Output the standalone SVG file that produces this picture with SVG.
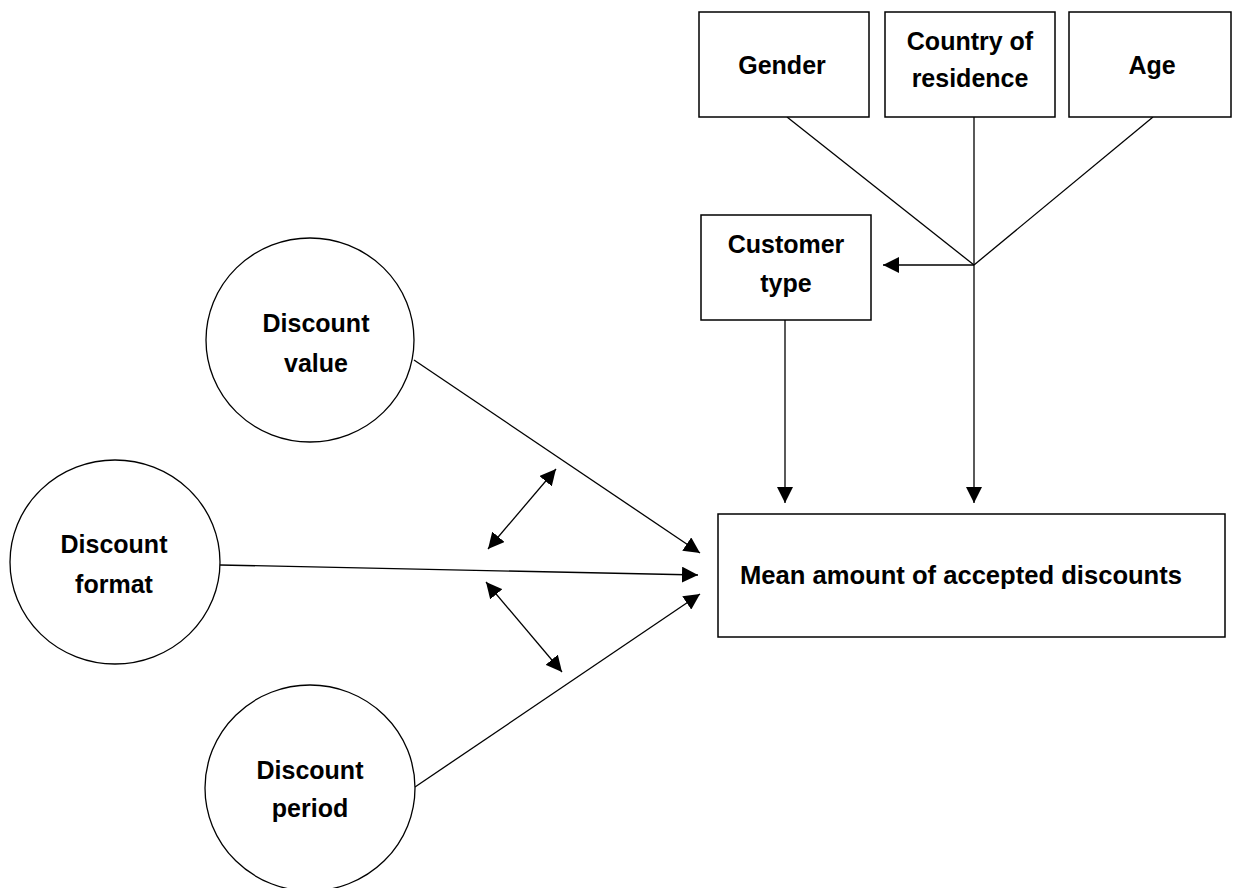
<svg xmlns="http://www.w3.org/2000/svg" width="1233" height="888" viewBox="0 0 1233 888">
<style>
  .box { fill: #fff; stroke: #000; stroke-width: 1.5; }
  .circ { fill: #fff; stroke: #000; stroke-width: 1.3; }
  .lbl { font-family: "Liberation Sans", Arial, sans-serif; font-weight: bold; font-size: 25px; fill: #000; text-anchor: middle; }
  .edge { fill: none; stroke: #000; stroke-width: 1.3; }
</style>
<defs>
  <marker id="ah" markerUnits="userSpaceOnUse" markerWidth="17" markerHeight="16" refX="16" refY="8" orient="auto-start-reverse" viewBox="0 0 17 16">
    <path d="M0,0 L16,8 L0,16 z" fill="#000"/>
  </marker>
</defs>
<rect width="1233" height="888" fill="#fff"/>

<g id="connectors">
  <line class="edge" x1="787" y1="117" x2="974" y2="265"/>
  <line class="edge" x1="1153" y1="117" x2="974" y2="265"/>
  <line class="edge" x1="974" y1="117" x2="974" y2="503" marker-end="url(#ah)"/>
  <line class="edge" x1="974" y1="265" x2="883" y2="265" marker-end="url(#ah)"/>
  <line class="edge" x1="785" y1="320" x2="785" y2="503" marker-end="url(#ah)"/>
  <line class="edge" x1="414" y1="360" x2="700" y2="553" marker-end="url(#ah)"/>
  <line class="edge" x1="220" y1="565" x2="698" y2="575" marker-end="url(#ah)"/>
  <line class="edge" x1="415" y1="787" x2="700" y2="594" marker-end="url(#ah)"/>
  <line class="edge" x1="488" y1="549" x2="556" y2="469" marker-start="url(#ah)" marker-end="url(#ah)"/>
  <line class="edge" x1="486" y1="582" x2="562" y2="672" marker-start="url(#ah)" marker-end="url(#ah)"/>
</g>

<g id="gender">
  <rect class="box" x="699" y="12" width="170" height="105"/>
  <text class="lbl" x="782" y="74">Gender</text>
</g>
<g id="country">
  <rect class="box" x="885" y="12" width="170" height="105"/>
  <text class="lbl" x="970" y="50">Country of</text>
  <text class="lbl" x="970" y="87">residence</text>
</g>
<g id="age">
  <rect class="box" x="1069" y="12" width="162" height="105"/>
  <text class="lbl" x="1152" y="74">Age</text>
</g>
<g id="customer-type">
  <rect class="box" x="701" y="215" width="170" height="105"/>
  <text class="lbl" x="786" y="253">Customer</text>
  <text class="lbl" x="786" y="292">type</text>
</g>
<g id="mean">
  <rect class="box" x="718" y="514" width="507" height="123"/>
  <text class="lbl" x="740" y="584" style="text-anchor:start" textLength="442" lengthAdjust="spacingAndGlyphs">Mean amount of accepted discounts</text>
</g>
<g id="discount-value">
  <ellipse class="circ" cx="310" cy="340" rx="104" ry="102"/>
  <text class="lbl" x="316" y="332">Discount</text>
  <text class="lbl" x="316" y="372">value</text>
</g>
<g id="discount-format">
  <ellipse class="circ" cx="115" cy="562" rx="105" ry="102"/>
  <text class="lbl" x="114" y="553">Discount</text>
  <text class="lbl" x="114" y="593">format</text>
</g>
<g id="discount-period">
  <ellipse class="circ" cx="310" cy="788" rx="105" ry="103"/>
  <text class="lbl" x="310" y="779">Discount</text>
  <text class="lbl" x="310" y="817">period</text>
</g>
</svg>
